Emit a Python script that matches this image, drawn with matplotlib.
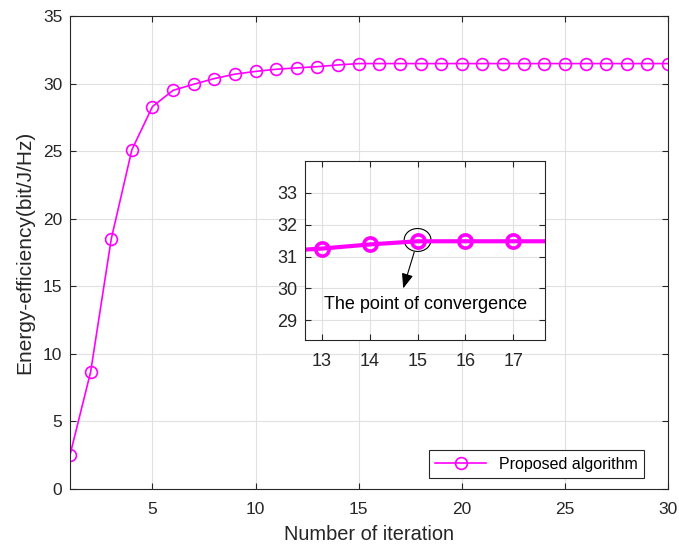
import numpy as np
import matplotlib
matplotlib.use("Agg")
import matplotlib.pyplot as plt
from matplotlib.patches import Ellipse

plt.rcParams["font.family"] = ["Liberation Sans", "DejaVu Sans"]

# data
iterations = list(range(1, 31))
energy_eff = [2.52, 8.66, 18.5, 25.1, 28.3, 29.5, 29.95, 30.37, 30.7, 30.9,
              31.06, 31.16, 31.25, 31.38, 31.48, 31.48, 31.48, 31.48, 31.48, 31.48,
              31.48, 31.48, 31.48, 31.48, 31.48, 31.48, 31.48, 31.48, 31.48, 31.48]
main_xticks = [5, 10, 15, 20, 25, 30]
main_yticks = [0, 5, 10, 15, 20, 25, 30, 35]
inset_xticks = [13, 14, 15, 16, 17]
inset_yticks = [29, 30, 31, 32, 33]

mag = (1, 0, 1)
dark = (0.15, 0.15, 0.15)
grid_c = (0.88, 0.88, 0.88)


def style_axes(ax, fs):
    ax.grid(True, color=grid_c, linewidth=0.8)
    ax.set_axisbelow(True)
    ax.tick_params(direction="in", top=True, right=True, length=4,
                   colors=dark, labelsize=fs, width=0.8)
    ax.tick_params(axis="x", pad=9)
    ax.tick_params(axis="y", pad=5.5)
    for s in ax.spines.values():
        s.set_color(dark)
        s.set_linewidth(0.8)


fig = plt.figure(figsize=(6.79, 5.48), dpi=100)
ax = fig.add_axes([70 / 679, 1 - 489 / 548, 598 / 679, 473 / 548])
ax.plot(iterations, energy_eff, color=mag, lw=1.2, marker="o", ms=8.5,
        mfc="none", mew=1.2, label="Proposed algorithm")
ax.set_xlim(1, 30)
ax.set_ylim(0, 35)
ax.set_xticks(main_xticks)
ax.set_yticks(main_yticks)
style_axes(ax, 12.5)
ax.set_xlabel("Number of iteration", fontsize=14.4, color=dark, labelpad=6)
ax.set_ylabel("Energy-efficiency(bit/J/Hz)", fontsize=15, color=dark, labelpad=6)
leg = ax.legend(loc="lower right", fontsize=11.5, fancybox=False, framealpha=1,
                edgecolor=dark, borderpad=0.4, handlelength=3.2, borderaxespad=0,
                bbox_to_anchor=(0.96, 0.0233))
leg.get_frame().set_linewidth(0.8)

# inset
axi = fig.add_axes([305 / 679, 1 - 340 / 548, 240 / 679, 179 / 548])
axi.plot(iterations, energy_eff, color=mag, lw=3, marker="o", ms=9.5,
         mfc="none", mew=2.6)
axi.set_xlim(12.65, 17.66)
axi.set_ylim(28.38, 34)
axi.set_xticks(inset_xticks)
axi.set_yticks(inset_yticks)
style_axes(axi, 13)
axi.add_patch(Ellipse((15.0, 31.52), 0.56, 0.72, fill=False, ec="black", lw=0.8))
axi.annotate("", xy=(14.70, 30.0), xytext=(14.93, 31.14),
             arrowprops=dict(arrowstyle="-|>,head_length=0.9,head_width=0.35",
                             color="black", lw=0.8, shrinkA=0, shrinkB=0))
axi.text(15.16, 29.48, "The point of convergence", fontsize=13,
         ha="center", va="center", color="black")

fig.savefig("out.png", dpi=100)
